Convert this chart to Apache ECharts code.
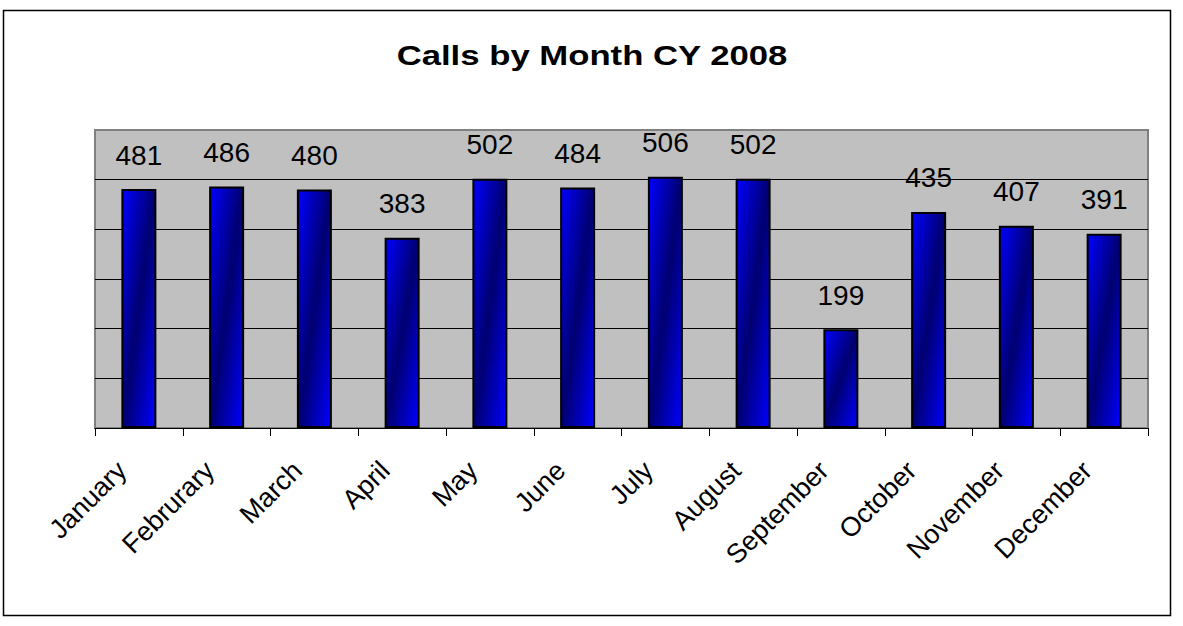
<!DOCTYPE html>
<html>
<head>
<meta charset="utf-8">
<script src="https://cdn.jsdelivr.net/npm/echarts@6/dist/echarts.min.js"></script>
<style>
html,body{margin:0;padding:0;background:#fff;}
#chart{width:1183px;height:626px;}
</style>
</head>
<body>
<div id="chart"></div>
<script>
var titleText = 'Calls by Month CY 2008';
var months = ['January','Februrary','March','April','May','June','July','August','September','October','November','December'];
var calls = [481,486,480,383,502,484,506,502,199,435,407,391];
var yMin = 0, yMax = 600, yStep = 100;

var chart = echarts.init(document.getElementById('chart'), null, {renderer:'svg'});
var font = '"Liberation Sans", Arial, sans-serif';
chart.setOption({
  backgroundColor:'#ffffff',
  animation:false,
  graphic:[{
    type:'rect', shape:{x:3.5,y:10.5,width:1167,height:605},
    style:{fill:'none', stroke:'#000', lineWidth:1.5}, silent:true, z:-1
  },{
    type:'text', x:592, y:55, scaleX:1.24, silent:true,
    style:{text:titleText, fontFamily:font, fontSize:28, fontWeight:'bold', fill:'#000', textAlign:'center', textVerticalAlign:'middle'}
  }],
  grid:{
    left:95, right:35, top:130, bottom:198,
    show:true, backgroundColor:'#c0c0c0', borderColor:'#808080', borderWidth:2
  },
  xAxis:{
    type:'category', data:months, boundaryGap:true,
    axisLine:{show:true, lineStyle:{color:'#000', width:1}},
    axisTick:{show:true, length:8, lineStyle:{color:'#000'}},
    axisLabel:{rotate:45, fontFamily:font, fontSize:27, color:'#000', margin:21, padding:[0,24,0,0], interval:0}
  },
  yAxis:{
    type:'value', min:yMin, max:yMax, interval:yStep,
    axisLabel:{show:false},
    axisLine:{show:false}, axisTick:{show:false},
    splitLine:{show:true, lineStyle:{color:['#000','#000','#000','#000','#000','#000','#808080'], width:1}}
  },
  series:[{
    type:'bar', data:calls, barWidth:35,
    itemStyle:{
      color:{type:'linear', x:0, y:0, x2:1, y2:1, colorStops:[
        {offset:0, color:'#0000ff'},
        {offset:0.5, color:'#000070'},
        {offset:1, color:'#0000ff'}
      ]},
      borderColor:'#000', borderWidth:2
    },
    label:{show:true, position:'top', distance:20, fontFamily:font, fontSize:28, color:'#000', lineHeight:28}
  }]
});
</script>
</body>
</html>
